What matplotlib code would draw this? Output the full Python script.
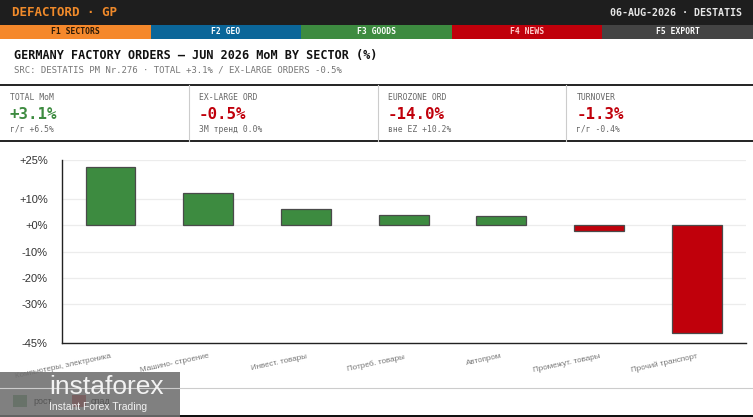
import matplotlib.pyplot as plt
from matplotlib.patches import Rectangle
from matplotlib.lines import Line2D

# sector data, MoM %
sectors = ["Компьютеры, электроника", "Машино- строение", "Инвест. товары",
           "Потреб. товары", "Автопром", "Промежут. товары", "Прочий транспорт"]
mom = [22.5, 12.5, 6.1, 3.9, 3.5, -2.3, -41.2]
yticks = [25, 10, 0, -10, -20, -30, -45]
ytick_labels = ["+25%", "+10%", "+0%", "-10%", "-20%", "-30%", "-45%"]

tabs = ["F1 SECTORS", "F2 GEO", "F3 GOODS", "F4 NEWS", "F5 EXPORT"]
tab_colors = ["#f5882b", "#0b6699", "#3d8b40", "#c0000b", "#444444"]
tab_text = ["#2a1a08", "#ffffff", "#ffffff", "#ffd0d0", "#ffffff"]

kpi_names = ["TOTAL MoM", "EX-LARGE ORD", "EUROZONE ORD", "TURNOVER"]
kpi_values = ["+3.1%", "-0.5%", "-14.0%", "-1.3%"]
kpi_notes = ["г/г +6.5%", "3М тренд 0.0%", "вне EZ +10.2%", "г/г -0.4%"]

GREEN = "#3d8b40"
RED = "#c0000b"
MONO = "DejaVu Sans Mono"

W, H = 753, 417
fig = plt.figure(figsize=(W / 100, H / 100), dpi=100)
fig.patch.set_facecolor("white")


def fx(x):
    return x / W


def fy(y):
    return 1 - y / H


def box(x0, y0, x1, y1, color, **kw):
    fig.add_artist(Rectangle((fx(x0), fy(y1)), fx(x1 - x0), (y1 - y0) / H,
                             transform=fig.transFigure, facecolor=color,
                             edgecolor="none", **kw))


def hline(y, x0=0, x1=W, color="#222", lw=1.0):
    fig.add_artist(Line2D([fx(x0), fx(x1)], [fy(y), fy(y)], transform=fig.transFigure,
                          color=color, lw=lw))


# header
box(0, 0, W, 25, "#1e1e1e")
fig.text(fx(12), fy(13), "DEFACTORD · GP", family=MONO, weight="bold", fontsize=9,
         color="#f08a2a", va="center")
fig.text(fx(742), fy(13), "06-AUG-2026 · DESTATIS", family=MONO, weight="bold",
         fontsize=7.2, color="#e6e6e6", va="center", ha="right")

# tabs
tw = W / len(tabs)
for i, t in enumerate(tabs):
    box(i * tw, 25, (i + 1) * tw, 39, tab_colors[i])
    fig.text(fx(i * tw + tw / 2), fy(32), t, family=MONO, weight="bold", fontsize=5.8,
             color=tab_text[i], ha="center", va="center")

# title
fig.text(fx(14), fy(55.5), "GERMANY FACTORY ORDERS — JUN 2026 MoM BY SECTOR (%)",
         family=MONO, weight="bold", fontsize=8.5, color="#111", va="center")
fig.text(fx(14), fy(70), "SRC: DESTATIS PM Nr.276 · TOTAL +3.1% / EX-LARGE ORDERS -0.5%",
         family=MONO, fontsize=6.5, color="#777", va="center")

# KPI strip
hline(85, lw=1.4, color="#222")
hline(141, lw=1.4, color="#222")
for i in range(4):
    x = 10 + i * 188.8
    if i > 0:
        fig.add_artist(Line2D([fx(i * 188.8), fx(i * 188.8)], [fy(85), fy(141)],
                              transform=fig.transFigure, color="#cccccc", lw=0.8))
    fig.text(fx(x), fy(97), kpi_names[i], family=MONO, fontsize=5.8, color="#666",
             va="center")
    col = GREEN if kpi_values[i].startswith("+") else RED
    fig.text(fx(x), fy(114.5), kpi_values[i], family=MONO, weight="bold", fontsize=11.3,
             color=col, va="center")
    fig.text(fx(x), fy(129.5), kpi_notes[i], family=MONO, fontsize=5.8, color="#666",
             va="center")

# chart
ax = fig.add_axes([fx(61.7), fy(343.3), fx(745.7 - 61.7), (343.3 - 160) / H])
x = range(len(sectors))
colors = [GREEN if v >= 0 else RED for v in mom]
ax.bar(x, mom, width=0.51, color=colors, edgecolor="#4a4a4a", linewidth=0.9, zorder=3)
ax.set_xlim(-0.5, len(sectors) - 0.5)
ax.set_ylim(-45, 25)
ax.set_yticks(yticks)
ax.set_yticklabels(ytick_labels, family="Liberation Sans", fontsize=8, color="#333")
ax.set_xticks(list(x))
ax.set_xticklabels(sectors, family="Liberation Sans", fontsize=5.8, color="#777",
                   rotation=12, ha="right", rotation_mode="anchor")
ax.tick_params(axis="both", length=0)
ax.tick_params(axis="y", pad=10)
ax.tick_params(axis="x", pad=7)
ax.grid(axis="y", color="#ececec", lw=0.9, zorder=0)
for s in ["top", "right"]:
    ax.spines[s].set_visible(False)
ax.spines["left"].set_color("#222")
ax.spines["bottom"].set_color("#222")
ax.spines["left"].set_linewidth(1.0)
ax.spines["bottom"].set_linewidth(1.0)

# legend area
hline(388, color="#cccccc", lw=0.8)
box(13, 395, 27, 407, GREEN)
fig.text(fx(33), fy(401), "рост", family="Liberation Sans", fontsize=6.5, color="#555",
         va="center")
box(72, 395, 86, 407, RED)
fig.text(fx(91), fy(401), "спад", family="Liberation Sans", fontsize=6.5, color="#555",
         va="center")
box(0, 415, W, 417, "#111")

# watermark
box(0, 372, 180, 417, "#6f6f6f", alpha=0.88)
fig.text(fx(49), fy(387), "instaforex", family="Liberation Sans", fontsize=19,
         color="#f2f2f2", va="center")
fig.text(fx(49), fy(407), "Instant Forex Trading", family="Liberation Sans", fontsize=7.5,
         color="#f2f2f2", va="center")

fig.savefig("out.png", dpi=100)
